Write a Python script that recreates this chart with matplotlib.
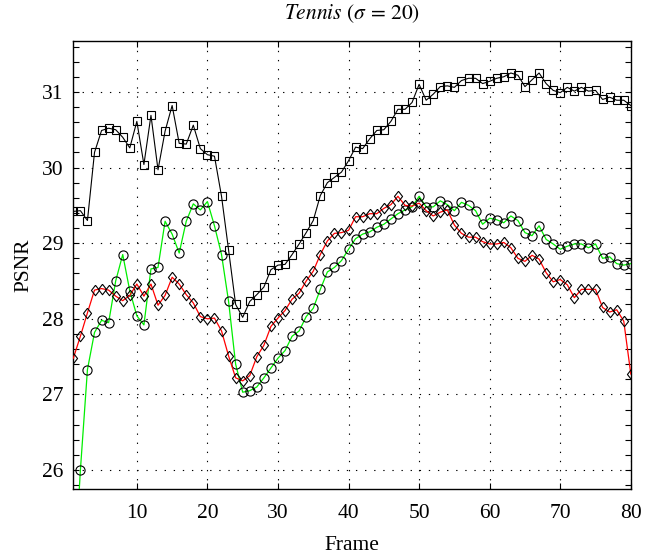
import numpy as np
import matplotlib
matplotlib.use("Agg")
import matplotlib.pyplot as plt
from matplotlib.ticker import MultipleLocator

plt.rcParams['font.family'] = ['Liberation Serif', 'DejaVu Serif']
plt.rcParams['mathtext.fontset'] = 'stix'

frames = list(range(1, 81))

psnr_black = [29.42, 29.43, 29.30, 30.20, 30.49, 30.52, 30.50, 30.40, 30.26, 30.61,
              30.04, 30.69, 29.97, 30.48, 30.82, 30.32, 30.31, 30.56, 30.25, 30.17,
              30.15, 29.62, 28.91, 28.19, 28.02, 28.23, 28.32, 28.42, 28.65, 28.71,
              28.72, 28.85, 28.99, 29.14, 29.30, 29.63, 29.80, 29.87, 29.94, 30.09,
              30.27, 30.25, 30.38, 30.49, 30.50, 30.61, 30.77, 30.77, 30.86, 31.10,
              30.89, 30.97, 31.07, 31.08, 31.06, 31.15, 31.18, 31.18, 31.11, 31.14,
              31.18, 31.20, 31.25, 31.22, 31.07, 31.16, 31.25, 31.11, 31.02, 30.99,
              31.06, 31.01, 31.06, 31.01, 31.02, 30.90, 30.93, 30.89, 30.89, 30.82]

psnr_green = [24.40, 26.00, 27.33, 27.82, 27.98, 27.95, 28.50, 28.85, 28.37, 28.04,
              27.92, 28.66, 28.68, 29.29, 29.12, 28.87, 29.29, 29.52, 29.44, 29.55,
              29.23, 28.85, 28.23, 27.40, 27.03, 27.05, 27.10, 27.22, 27.35, 27.48,
              27.58, 27.77, 27.84, 28.03, 28.14, 28.39, 28.62, 28.68, 28.77, 28.92,
              29.06, 29.12, 29.15, 29.21, 29.25, 29.32, 29.39, 29.44, 29.48, 29.62,
              29.48, 29.48, 29.56, 29.51, 29.43, 29.54, 29.50, 29.43, 29.25, 29.33,
              29.31, 29.27, 29.36, 29.30, 29.14, 29.10, 29.23, 29.05, 28.99, 28.92,
              28.96, 28.99, 28.99, 28.94, 28.99, 28.80, 28.82, 28.73, 28.71, 28.73]

psnr_red = [27.48, 27.77, 28.08, 28.38, 28.40, 28.38, 28.30, 28.24, 28.31, 28.46,
            28.30, 28.46, 28.18, 28.31, 28.55, 28.46, 28.32, 28.21, 28.03, 28.00,
            28.01, 27.84, 27.51, 27.22, 27.18, 27.25, 27.50, 27.65, 27.90, 28.01,
            28.11, 28.26, 28.34, 28.50, 28.63, 28.85, 29.03, 29.13, 29.14, 29.17,
            29.35, 29.35, 29.39, 29.39, 29.46, 29.51, 29.62, 29.50, 29.49, 29.53,
            29.43, 29.36, 29.41, 29.44, 29.24, 29.13, 29.08, 29.08, 29.02, 28.99,
            28.99, 29.01, 28.94, 28.80, 28.76, 28.84, 28.79, 28.61, 28.49, 28.52,
            28.45, 28.28, 28.39, 28.39, 28.39, 28.15, 28.09, 28.12, 27.97, 27.27]

x_ticks = [10, 20, 30, 40, 50, 60, 70, 80]
y_ticks = [26, 27, 28, 29, 30, 31]

fig = plt.figure(figsize=(6.45, 5.57), dpi=100)
ax = fig.add_axes([0.1137, 0.122, 0.978 - 0.1137, 0.926 - 0.122])

diamond = [(0, 1), (0.78, 0), (0, -1), (-0.78, 0), (0, 1)]

ax.plot(frames, psnr_black, color='black', lw=0.8, marker='s', ms=5.8,
        mfc='none', mec='black', mew=0.8, zorder=3)
ax.plot(frames, psnr_green, color='#00ee00', lw=0.9, marker='o', ms=6.6,
        mfc='none', mec='black', mew=0.8, zorder=3)
ax.plot(frames, psnr_red, color='#ff0000', lw=0.9, marker=diamond, ms=7.5,
        mfc='none', mec='black', mew=0.8, zorder=3)

ax.set_xlim(1, 80)
ax.set_ylim(25.75, 31.67)
ax.set_xticks(x_ticks)
ax.set_yticks(y_ticks)
ax.yaxis.set_minor_locator(MultipleLocator(0.2))

ax.grid(True, which='major', color='black', lw=0.8, linestyle=(0, (1.2, 7)))
ax.tick_params(which='both', direction='in', top=True, right=True,
               length=4.5, width=0.8, labelsize=15.5)
ax.tick_params(axis='x', pad=11)
ax.tick_params(axis='y', pad=7)
for s in ax.spines.values():
    s.set_linewidth(1.0)

ax.set_xlabel('Frame', fontsize=15.5, labelpad=9)
ax.set_ylabel('PSNR', fontsize=15.5, labelpad=6)
ax.set_title(r'$\mathit{Tennis}\ (\sigma\, =\, 20)$', fontsize=15.5, pad=16)

fig.savefig('out.png', dpi=100)
